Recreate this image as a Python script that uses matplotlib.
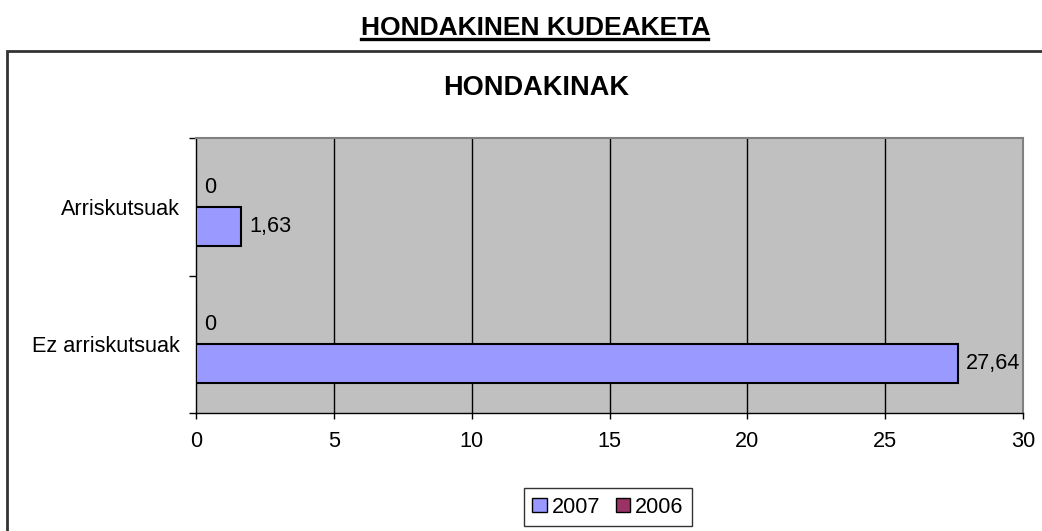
import matplotlib
matplotlib.use("Agg")
import matplotlib.pyplot as plt
from matplotlib.patches import Rectangle, Patch
from matplotlib.lines import Line2D
import numpy as np

plt.rcParams['font.family'] = ['Liberation Sans', 'DejaVu Sans']

# Data
categories = ["Ez arriskutsuak", "Arriskutsuak"]
series_names = ["2007", "2006"]
values_2007 = [27.64, 1.63]
values_2006 = [0, 0]
colors = {"2007": "#9999FF", "2006": "#993366"}
x_ticks = [0, 5, 10, 15, 20, 25, 30]
main_title = "HONDAKINEN KUDEAKETA"
chart_title = "HONDAKINAK"

FS = 15.6
W, H = 1042, 531
fig = plt.figure(figsize=(W / 100, H / 100), dpi=100)
fig.patch.set_facecolor("white")

# Outer chart border (extends past right/bottom edges)
fig.add_artist(Rectangle((7 / W, -0.1), 1.2, (H - 51) / H + 0.1,
                         transform=fig.transFigure, fill=False,
                         lw=2, edgecolor="#333333"))

ax = fig.add_axes([196 / W, 1 - 413 / H, (1023 - 196) / W, (413 - 138) / H])
ax.set_facecolor("#C0C0C0")

y = np.arange(len(categories))
h = 0.284
ax.barh(y - h / 2, values_2007, height=h, color=colors["2007"],
        edgecolor="black", lw=1.5, zorder=3)
ax.barh(y + h / 2, values_2006, height=h, color=colors["2006"],
        edgecolor="black", lw=1.5, zorder=3)

def fmt(v):
    if v == int(v):
        return str(int(v))
    return f"{v:.2f}".replace(".", ",")

off = 0.3
for yi, v in zip(y, values_2007):
    ax.text(v + off, yi - h / 2, fmt(v), va="center", ha="left", fontsize=FS, zorder=4)
for yi, v in zip(y, values_2006):
    ax.text(v + off, yi + h / 2, fmt(v), va="center", ha="left", fontsize=FS, zorder=4)

ax.set_xlim(0, 30)
ax.set_ylim(-0.5, 1.5)
ax.set_xticks(x_ticks)
ax.set_xticklabels([str(t) for t in x_ticks], fontsize=FS)
ax.tick_params(axis="x", length=4, width=1, pad=9, color="black")

ax.set_yticks([-0.5, 0.5, 1.5])
ax.set_yticklabels([])
ax.tick_params(axis="y", which="major", length=5, width=1, color="black")
ax.set_yticks(y, minor=True)
ax.set_yticklabels(categories, minor=True, fontsize=FS)
ax.tick_params(axis="y", which="minor", length=0, pad=11.5)

for t in x_ticks[1:-1]:
    ax.axvline(t, color="black", lw=1, zorder=1)

for s in ["left", "bottom"]:
    ax.spines[s].set_color("black")
    ax.spines[s].set_linewidth(1)
for s in ["right", "top"]:
    ax.spines[s].set_color("#808080")
    ax.spines[s].set_linewidth(1.5)

# Titles
t1 = fig.text(536 / W, 1 - 35 / H, main_title, ha="center", va="baseline",
              fontsize=19, fontweight="bold")
fig.text(536 / W, 1 - 95 / H, chart_title, ha="center", va="baseline",
         fontsize=19.5, fontweight="bold")

fig.canvas.draw()
bb = t1.get_window_extent()
uy = 1 - 39 / H
fig.add_artist(Line2D([bb.x0 / W, (bb.x1 - 3) / W], [uy, uy], transform=fig.transFigure,
                      color="black", lw=2.4))

handles = [Patch(facecolor=colors[n], edgecolor="black", lw=1, label=n) for n in series_names]
leg = fig.legend(handles=handles, loc="upper center", ncol=2,
                 bbox_to_anchor=(608 / W, 1 - 488 / H), fontsize=FS,
                 frameon=True, fancybox=False, edgecolor="black",
                 handlelength=0.65, handleheight=0.65, handletextpad=0.25,
                 columnspacing=0.7, borderpad=0.4, borderaxespad=0)
leg.get_frame().set_linewidth(1)

fig.savefig("out.png", dpi=100)
